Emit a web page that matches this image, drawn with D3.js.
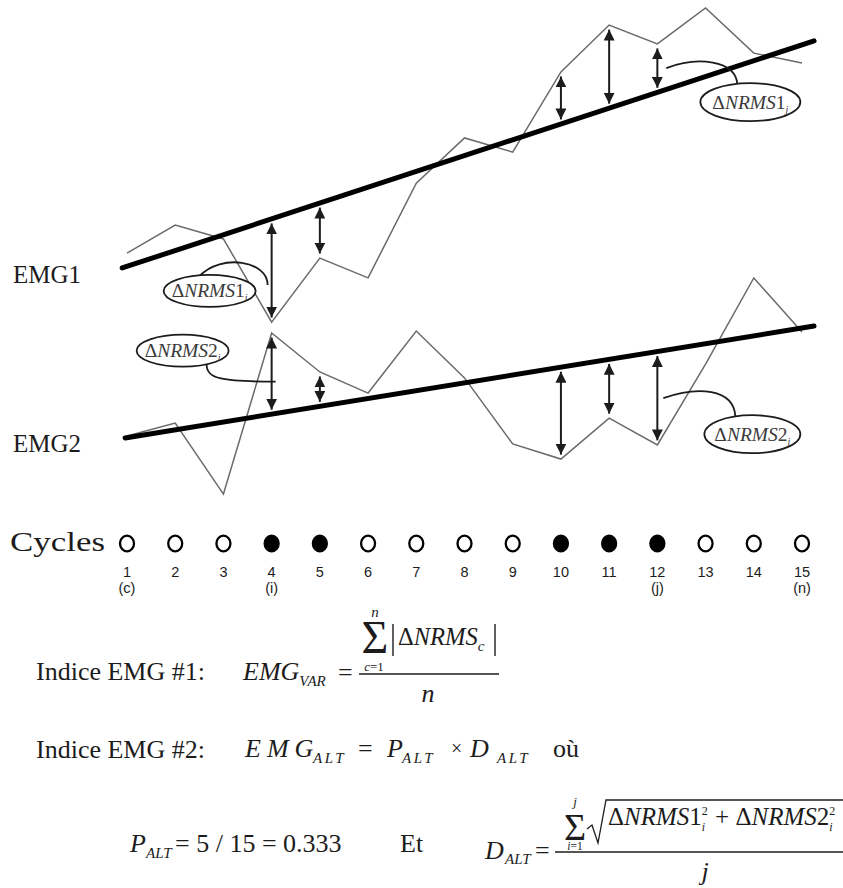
<!DOCTYPE html>
<html>
<head>
<meta charset="utf-8">
<script src="https://cdn.jsdelivr.net/npm/d3@7"></script>
<style>
  html, body { margin: 0; padding: 0; background: #fff; }
  svg { display: block; }
</style>
</head>
<body>
<svg id="fig" width="843" height="888"></svg>
<script>
// ---- data -------------------------------------------------------------
const cycles = [1, 2, 3, 4, 5, 6, 7, 8, 9, 10, 11, 12, 13, 14, 15];
const alteredCycles = [4, 5, 10, 11, 12];          // filled markers, arrows drawn
const tagCycles = [1, 4, 12, 15];
const tagLabels = ["(c)", "(i)", "(j)", "(n)"];

const seriesNames = ["EMG1", "EMG2"];
// normalised RMS per cycle (arbitrary units, 0-100)
const emg1 = [23.3, 31.8, 27.6, 2.4, 21.8, 15.8, 44.5, 58.2, 53.9, 78.2, 92.4, 86.7, 97.6, 83.9, 80.9];
const emg2 = [19.4, 23.3, 1.8, 50.6, 38.8, 32.4, 51.2, 37.0, 17.0, 12.4, 24.8, 16.7, 41.2, 67.3, 50.9];
// linear trend of each series (cycle, value) at both ends
const trendCycles1 = [0.9, 15.25], trendValues1 = [18.8, 87.6];
const trendCycles2 = [0.96, 15.25], trendValues2 = [18.8, 52.7];

// ---- setup ------------------------------------------------------------
const svg = d3.select("#fig");
const serif = "'Liberation Serif','Times New Roman',Times,serif";
const sans = "'Liberation Sans',Arial,Helvetica,sans-serif";
const ink = "#1c1c1c";
const NB = "\u00a0";

const x = d3.scaleLinear().domain([1, 15]).range([127, 802]);
const y1 = d3.scaleLinear().domain([0, 100]).range([330, 0]);
const y2 = d3.scaleLinear().domain([0, 100]).range([500, 170]);

const panels = [
  { name: seriesNames[0], values: emg1, y: y1, trend: d3.scaleLinear().domain(trendCycles1).range(trendValues1), tc: trendCycles1, labelY: 283 },
  { name: seriesNames[1], values: emg2, y: y2, trend: d3.scaleLinear().domain(trendCycles2).range(trendValues2), tc: trendCycles2, labelY: 452 }
];

// arrow heads
const defs = svg.append("defs");
defs.append("marker")
  .attr("id", "head")
  .attr("viewBox", "0 0 11 11")
  .attr("refX", 11).attr("refY", 5.5)
  .attr("markerWidth", 11).attr("markerHeight", 11)
  .attr("markerUnits", "userSpaceOnUse")
  .attr("orient", "auto-start-reverse")
  .append("path").attr("d", "M0,0 L11,5.5 L0,11 Z").attr("fill", ink);

const line = d3.line();

panels.forEach(p => {
  const g = svg.append("g");
  // measured series
  g.append("path")
    .attr("d", line(cycles.map((c, i) => [x(c), p.y(p.values[i])])))
    .attr("fill", "none").attr("stroke", "#6a6a6a").attr("stroke-width", 1.5)
    .attr("stroke-linejoin", "miter");
  // trend
  g.append("path")
    .attr("d", line(p.tc.map(c => [x(c), p.y(p.trend(c))])))
    .attr("fill", "none").attr("stroke", "#000").attr("stroke-width", 5)
    .attr("stroke-linecap", "round");
  // deviations on altered cycles
  const gap = 4.5;
  alteredCycles.forEach(c => {
    const yt = p.y(p.trend(c)), ys = p.y(p.values[c - 1]);
    const s = Math.sign(ys - yt);
    g.append("line")
      .attr("x1", x(c)).attr("x2", x(c))
      .attr("y1", yt + s * gap).attr("y2", ys - s * gap)
      .attr("stroke", ink).attr("stroke-width", 2)
      .attr("marker-start", "url(#head)").attr("marker-end", "url(#head)");
  });
  // series label
  svg.append("text").attr("x", 13).attr("y", p.labelY)
    .attr("font-family", serif).attr("font-size", 25).attr("fill", ink)
    .text(p.name);
});

// ---- callouts ---------------------------------------------------------
const callouts = [
  { panel: 0, cycle: 4,  t: 0.64, num: "1", sub: "i", ex: -62, ey: 6,   rx: 46, ry: 16,
    lead: [[-4, 0], [-4, -24], [-50, -32], [-72, -9]] },
  { panel: 0, cycle: 12, t: 0.5,  num: "1", sub: "j", ex: 93,  ey: 34,  rx: 50, ry: 19,
    lead: [[9, 0], [40, -12], [78, -8], [80, 16]] },
  { panel: 1, cycle: 4,  t: 0.4,  num: "2", sub: "i", ex: -89, ey: -31, rx: 46, ry: 16,
    lead: [[4, 0], [-50, 0], [-65, -3], [-65, -17]] },
  { panel: 1, cycle: 12, t: 0.5,  num: "2", sub: "j", ex: 95,  ey: 36,  rx: 48, ry: 19,
    lead: [[6, 0], [40, -12], [76, -10], [78, 18]] }
];

callouts.forEach(co => {
  const p = panels[co.panel];
  const yt = p.y(p.trend(co.cycle)), ys = p.y(p.values[co.cycle - 1]);
  const ax = x(co.cycle), ay = yt + co.t * (ys - yt);
  const L = co.lead.map(([dx, dy]) => [ax + dx, ay + dy]);
  const g = svg.append("g");
  g.append("path")
    .attr("d", `M${L[0]}C${L[1]} ${L[2]} ${L[3]}`)
    .attr("fill", "none").attr("stroke", ink).attr("stroke-width", 1.8);
  const cx = ax + co.ex, cy = ay + co.ey;
  g.append("ellipse").attr("cx", cx).attr("cy", cy).attr("rx", co.rx).attr("ry", co.ry)
    .attr("fill", "#fff").attr("stroke", ink).attr("stroke-width", 1.8);
  const t = g.append("text").attr("x", cx).attr("y", cy + 6.5)
    .attr("text-anchor", "middle").attr("font-family", serif).attr("font-size", 19.5).attr("fill", "#3a3a3a");
  t.append("tspan").text("Δ");
  t.append("tspan").attr("font-style", "italic").text("NRMS");
  t.append("tspan").text(co.num);
  t.append("tspan").attr("font-style", "italic").attr("font-size", 10).attr("dy", 4).text(co.sub);
});

// ---- cycle markers ----------------------------------------------------
const cyc = svg.append("g");
cyc.append("text").attr("x", 10).attr("y", 551)
  .attr("font-family", serif).attr("font-size", 28).attr("fill", ink)
  .attr("textLength", 95).attr("lengthAdjust", "spacingAndGlyphs")
  .text("Cycles");
cyc.selectAll("ellipse").data(cycles).join("ellipse")
  .attr("cx", d => x(d)).attr("cy", 543.5).attr("rx", 7).attr("ry", 7.8)
  .attr("fill", d => alteredCycles.includes(d) ? "#000" : "#fff")
  .attr("stroke", "#000").attr("stroke-width", 2.3);
cyc.selectAll("text.num").data(cycles).join("text").attr("class", "num")
  .attr("x", d => x(d)).attr("y", 577).attr("text-anchor", "middle")
  .attr("font-family", sans).attr("font-size", 14.5).attr("fill", ink)
  .text(d => d);
cyc.selectAll("text.tag").data(tagCycles).join("text").attr("class", "tag")
  .attr("x", d => x(d)).attr("y", 593).attr("text-anchor", "middle")
  .attr("font-family", sans).attr("font-size", 14.5).attr("fill", ink)
  .text((d, i) => tagLabels[i]);

// ---- formulas ---------------------------------------------------------
const fx = svg.append("g").attr("font-family", serif).attr("fill", ink);

function txt(xp, yp, s, size, opts = {}) {
  const t = fx.append("text").attr("x", xp).attr("y", yp).attr("font-size", size)
    .attr("font-style", opts.it ? "italic" : "normal");
  if (opts.anchor) t.attr("text-anchor", opts.anchor);
  if (opts.ls) t.attr("letter-spacing", opts.ls);
  t.text(s);
  return t;
}
// lay out a row of pieces left to right, returns end x
function run(x0, y0, items) {
  let xp = x0;
  items.forEach(it => {
    if (it.gap) { xp += it.gap; return; }
    if (it.stack) {
      let w = 0;
      it.stack.forEach(s => {
        const n = txt(xp, y0 + s.dy, s.t, s.size, s);
        w = Math.max(w, n.node().getComputedTextLength());
      });
      xp += w + (it.after || 0);
      return;
    }
    const n = txt(xp, y0 + (it.dy || 0), it.t, it.size, it);
    xp += n.node().getComputedTextLength() + (it.after || 0);
  });
  return xp;
}
function hline(x1, x2, yp, w = 1.3) {
  fx.append("line").attr("x1", x1).attr("x2", x2).attr("y1", yp).attr("y2", yp)
    .attr("stroke", ink).attr("stroke-width", w);
}
function vline(xp, ya, yb, w = 1.4) {
  fx.append("line").attr("x1", xp).attr("x2", xp).attr("y1", ya).attr("y2", yb)
    .attr("stroke", ink).attr("stroke-width", w);
}

// Indice EMG #1
txt(36, 680, "Indice EMG #1:", 26);
run(243, 680, [{ t: "EMG", size: 26, it: true }, { t: "VAR", size: 15, it: true, dy: 6 }]);
txt(338, 681, "=", 26);
txt(375, 653, "Σ", 46, { anchor: "middle" });
txt(375, 617, "n", 15, { anchor: "middle", it: true });
{
  const t = fx.append("text").attr("x", 374).attr("y", 671).attr("font-size", 13).attr("text-anchor", "middle");
  t.append("tspan").attr("font-style", "italic").text("c");
  t.append("tspan").text("=1");
}
vline(393, 624, 656);
run(398, 645, [
  { t: "Δ", size: 24.5 }, { t: "NRMS", size: 24.5, it: true },
  { t: "c", size: 15, it: true, dy: 6 }
]);
vline(495, 624, 656);
hline(359, 499, 674);
txt(428, 702, "n", 26, { anchor: "middle", it: true });

// Indice EMG #2
txt(36, 758, "Indice EMG #2:", 26);
txt(245, 757, "EMG", 26, { it: true, ls: 6 });
txt(313, 763, "ALT", 15, { it: true, ls: 2.5 });
txt(358, 757, "=", 26);
txt(387, 757, "P", 26, { it: true });
txt(402, 763, "ALT", 15, { it: true, ls: 2.5 });
txt(451, 755, "×", 20);
txt(470, 757, "D", 26, { it: true });
txt(497, 763, "ALT", 15, { it: true, ls: 2.5 });
txt(553, 757, "où", 26);

// P_ALT and D_ALT
txt(130, 852, "P", 26, { it: true });
txt(146, 858, "ALT", 15, { it: true });
txt(175, 852, "= 5 / 15 = 0.333", 26);
txt(400, 852, "Et", 26);

txt(485, 859, "D", 26, { it: true });
txt(505, 864, "ALT", 15, { it: true });
txt(535, 859, "=", 26);
hline(555, 843, 852);
txt(575, 840, "Σ", 38, { anchor: "middle" });
txt(575, 806, "j", 13, { anchor: "middle", it: true });
{
  const t = fx.append("text").attr("x", 575).attr("y", 850).attr("font-size", 11.5).attr("text-anchor", "middle");
  t.append("tspan").attr("font-style", "italic").text("i");
  t.append("tspan").text("=1");
}
fx.append("path").attr("d", "M587,829 L592,825 L598,843 L606,800 L843,800")
  .attr("fill", "none").attr("stroke", ink).attr("stroke-width", 1.3).attr("stroke-linejoin", "miter");
run(608, 825, [
  { t: "Δ", size: 25 }, { t: "NRMS", size: 25, it: true }, { t: "1", size: 25 },
  { stack: [{ t: "2", size: 12, dy: -10 }, { t: "i", size: 12, dy: 6, it: true }], after: 1 },
  { t: NB + "+" + NB, size: 25 },
  { t: "Δ", size: 25 }, { t: "NRMS", size: 25, it: true }, { t: "2", size: 25 },
  { stack: [{ t: "2", size: 12, dy: -10 }, { t: "i", size: 12, dy: 6, it: true }] }
]);
txt(705, 880, "j", 26, { anchor: "middle", it: true });
</script>
</body>
</html>
